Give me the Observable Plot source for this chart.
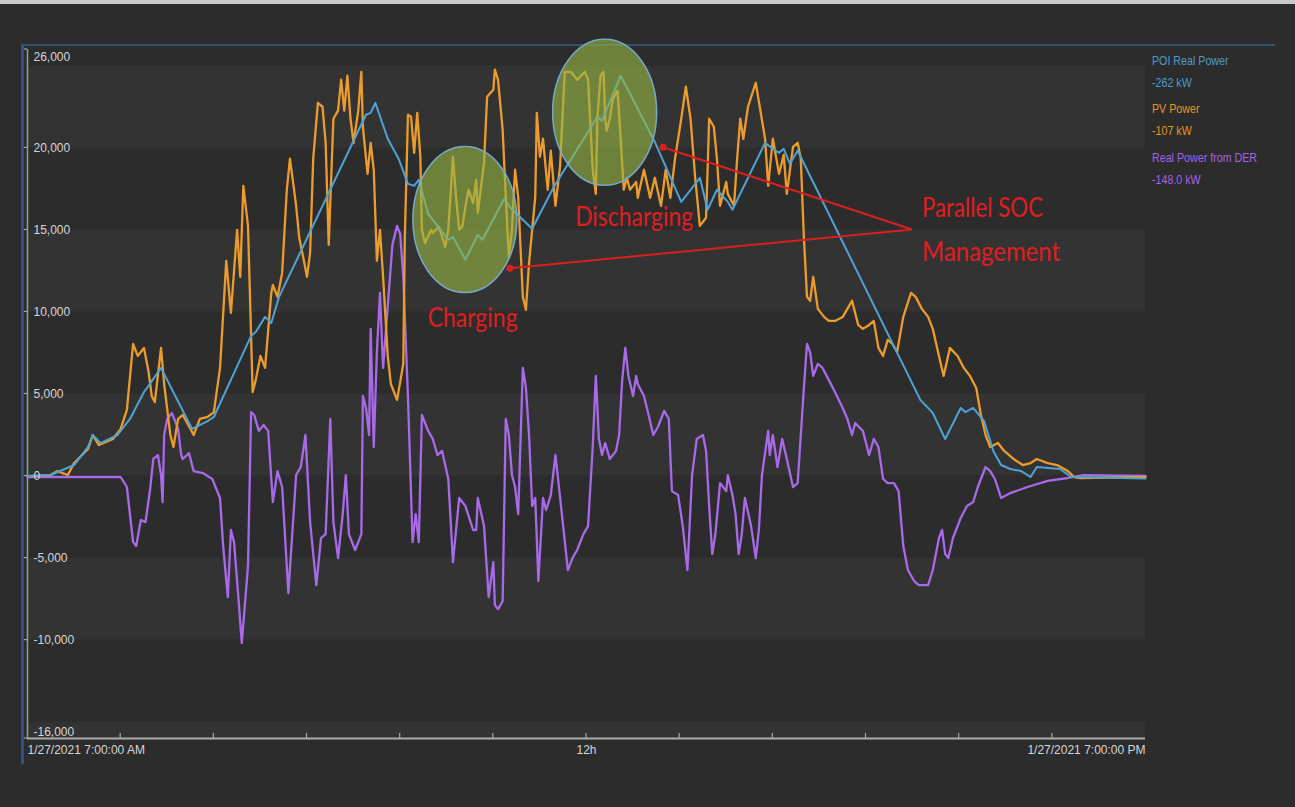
<!DOCTYPE html>
<html>
<head>
<meta charset="utf-8">
<script src="https://cdn.jsdelivr.net/npm/d3@7"></script>
<script src="https://cdn.jsdelivr.net/npm/@observablehq/plot@0.6"></script>
<style>
html,body{margin:0;padding:0;background:#2c2c2c;}
#wrap{position:relative;width:1295px;height:807px;overflow:hidden;background:#2c2c2c;font-family:"Liberation Sans",Arial,sans-serif;}
#topstrip{position:absolute;left:0;top:0;width:1295px;height:4px;background:#c9c9c9;}
#frameTop{position:absolute;left:22px;top:44px;width:1253px;height:2px;background:#34506f;}
#frameLeft{position:absolute;left:21px;top:44px;width:3px;height:720px;background:#2b5587;}
#chart{position:absolute;left:0;top:0;}
.leg{position:absolute;left:1152px;font-size:12px;line-height:14px;white-space:nowrap;transform-origin:0 50%;transform:scale(0.89,1.12);}
</style>
</head>
<body>
<div id="wrap">
  <div id="topstrip"></div>
  <div id="frameTop"></div>
  <div id="frameLeft"></div>
  <div id="chart"></div>
</div>
<script>
// ---------- data (minutes after 1/27/2021 07:00, kW) ----------
const poiMin = [0,15,30,39,42,47,58,66,75,77,86,106,116,120,144,147,153,157,162,218,221,224,232,239,245,249,252,258,271,274,282,290,293,307,311,325,339,367,370,382,404,421,433,438,444,451,454,475,480,484,487,491,496,575,580,583,591,601,604,609,616,622,627,633,640,646,650,665,672,720];
const poiKW = [0,60,670,1770,2500,2010,2500,3480,5120,5370,6590,2870,3350,3600,8540,8780,9700,9330,10920,22020,22140,22750,20560,19340,17810,17690,18060,15980,14400,14580,13180,14700,14400,16900,16350,15070,17630,21900,21660,24400,20370,16710,18180,16230,17450,16710,16230,20310,19950,19700,19950,19030,19830,4640,4150,3840,2260,4150,3900,4150,3360,1530,670,430,300,-60,550,430,-60,-150];

const pvMin = [0,15,19,26,30,39,42,46,55,60, 64,68,71,75,78,80,82,86,88,92, 94,97,100,105,107,111,116,120,124,128, 131,135,137,139,142,145,147,150,153,157, 158,161,164,167,169,171,173,175,178,180, 182,184,187,190,192,194,197,200,202,204, 206,208,210,213,215,216,219,221,223,225, 227,229,232,234,238,242,243,245,247,249, 251,253,254,256,260,261,265,267,269,271, 274,276,278,280,282,284,287,289,290,294, 296,300,301,303,306,308,310,312,314,316, 319,321,323,325,327,328,330,332,335,337, 340,343,346,350,354,359,361,364,366,367, 369,371,372,373,375,377,380,382,384,386, 388,392,393,397,401,404,408,411,414,417, 421,424,427,430,433,437,439,442,444,446, 450,451,455,457,459,461,464,469,472,475, 477,480,484,487,489,493,496,498,500,502, 504,506,509,513,516,520,525,531,535,538, 542,545,548,551,554,557,560,564,569,572, 576,580,583,587,590,594,599,603,607,611, 614,617,620,625,629,635,641,646,650,657, 663,670,674,678,720];
const pvKW = [0,60,300,60,790,1650,2500,1890,2260,2870, 4030,8050,7320,7810,6340,4880,4510,7810,5610,2500, 1770,3480,3720,2870,2500,3480,3600,3900,6590,13120, 9940,15010,12140,17690,15250,5120,5860,7320,6590,11160, 11650,10920,12380,17450,19340,17930,16470,14520,13120,12140, 13600,19340,22750,22510,20310,14090,21780,22270,24160,22270, 24400,21780,20310,22270,24640,21290,18420,20310,18670,13120, 15010,12140,7320,5610,4640,6830,14520,22020,21900,19700, 22140,19460,15010,14210,15010,14820,15190,14580,13970,15010, 19460,17020,15010,15190,16410,17450,16650,18060,16040,19090, 23120,23550,24770,24160,21110,17020,13360,15010,18670,17020, 10920,10130,12990,15010,17020,22140,19460,20560,17450,19830, 16470,18910,24640,24640,24160,24640,24160,18670,17200,21780, 24400,24640,21780,21050,21780,23000,23490,20560,17450,18180, 17450,17930,16960,18670,16960,18180,16470,18670,16960,19340, 21780,23730,21780,18180,15250,15740,21780,21290,19340,16470, 17930,17200,16470,19340,21780,20560,22510,23970,22270,20560, 17690,20560,18420,19580,17200,20070,20310,19340,14520,10920, 10680,12140,10190,9700,9455,9455,9700,10680,9210,8970, 9210,9455,7810,7320,8300,8050,7560,9700,11160,10920, 10190,9700,8970,7320,6100,7810,7320,6590,6100,5370, 3720,2500,1770,2010,1530,1040,670,790,1040,790, 670,300,-60,-120,-60];

const derMin = [0,60,64,68,70,73,76,79,81,84, 86,87,88,90,93,97,99,100,104,107, 113,119,124,126,129,131,133,136,138,142, 144,146,149,152,155,158,161,164,168,173, 176,179,182,186,189,192,195,197,200,203, 205,207,211,215,216,218,220,221,223,225, 227,229,235,238,240,242,245,248,250,252, 254,258,261,264,267,271,274,278,282,287, 289,290,294,297,300,301,303,306,308,310, 312,314,316,319,321,323,325,327,329,332, 334,337,340,342,348,351,354,358,361,364, 366,368,370,372,375,379,381,383,385,387, 390,392,393,397,400,403,406,410,413,415, 419,422,425,428,431,435,437,439,441,443, 446,450,451,454,456,458,460,462,466,469, 471,473,477,478,480,483,486,489,493,496, 498,500,502,504,506,509,512,516,520,525, 528,531,533,538,542,545,548,551,554,558, 561,564,567,571,574,580,583,587,589,591, 593,596,601,605,609,612,615,617,620,623, 627,633,644,657,670,680,720];
const derKW = [-60,-60,-670,-4030,-4270,-2680,-2810,-790,1040,1280, 60,-1590,2500,3480,3840,2870,1280,1040,1400,300, 180,-180,-1340,-4270,-7380,-3290,-4030,-7630,-10190,-5490, 3900,3720,2750,3110,2750,-1590,300,-670,-7140,60, 550,2500,-2810,-6650,-3780,-3540,3480,-2810,-5000,-2320, 60,-3540,-4510,-3540,4880,4150,2500,8970,1770,7560, 11160,6590,14090,15250,14760,12140,4880,-4030,-2320,-4030, 3720,2750,2260,1280,1530,-180,-5250,-1340,-1830,-3290, -3290,-1340,-3050,-7380,-5250,-7870,-8110,-7630,3480,2500, 60,-670,-2320,6590,5370,2500,-1830,-1340,-6400,-1340, -2070,-1160,1280,-430,-5730,-5000,-4510,-3540,-3050,1770, 6100,2260,1280,2010,1040,1530,2500,5860,7810,6100, 4880,6100,5610,4880,3720,2500,2990,3970,3480,-920, -1160,-3050,-5730,60,2260,2500,1530,-1830,-4760,-3540, -430,-920,60,-1160,-2320,-4760,-3540,-1340,-3050,-5000, -3290,60,2750,1280,2500,550,2260,1040,-670,-430, 2500,5370,8050,7560,6100,6830,6590,5860,5120,4150, 3480,2500,3230,2750,1280,2260,1770,-180,-430,-430, -920,-4270,-5730,-6400,-6650,-6650,-5730,-3780,-3290,-4760, -5000,-3780,-2560,-1830,-1590,-670,60,550,300,-180, -1340,-1040,-670,-300,-120,60,0];

const seriesNames = ["POI Real Power", "PV Power", "Real Power from DER"];
const legendReadings = ["-262 kW", "-107 kW", "-148.0 kW"];

const yTickValues = [26000, 20000, 15000, 10000, 5000, 0, -5000, -10000, -16000];
const bandLow  = [20000, 10000, 0, -10000, -16000];
const bandHigh = [25000, 15000, 5000, -5000, -15000];
const hourTickMinutes = [60,120,180,240,300,360,420,480,540,600,660];
const xLabelMinutes = [0, 360, 720];
const xLabelTexts = ["1/27/2021 7:00:00 AM", "12h", "1/27/2021 7:00:00 PM"];

// annotations (anchored in data coordinates)
const ellipseMinutes = [282, 372];
const ellipseKW = [15600, 22140];
const arrowFromMinutes = 570, arrowFromKW = 15000;
const arrowToMinutes = [409.6, 311];
const arrowToKW = [20010, 12630];
const noteTexts = ["Charging", "Discharging", "Parallel SOC", "Management"];
const noteMinutes = [287, 391, 576.4, 576.4];
const noteKW = [9030, 15190, 15740, 13050];

// ---------- styles ----------
const seriesColors = ["#4ea3d6", "#ec9c2c", "#a86ae8"];
const legendColors = ["#4b9ad2", "#e59429", "#a462e6"];

const start = new Date(2021, 0, 27, 7, 0, 0);
const T = m => new Date(start.getTime() + m * 60000);
const end = T(720);
const rows = (mins, vals) => mins.map((m, i) => ({t: T(m), v: vals[i]}));
const poiRows = rows(poiMin, poiKW), pvRows = rows(pvMin, pvKW), derRows = rows(derMin, derKW);
const fmt = v => v.toLocaleString("en-US");
const bands = bandLow.map((lo, i) => ({lo, hi: bandHigh[i]}));
const labelFill = "#d6d6d6";

const chart = Plot.plot({
  width: 1295, height: 807,
  marginLeft: 27, marginRight: 150, marginTop: 49, marginBottom: 69,
  style: {background: "transparent", color: "#a8a8a8", fontFamily: "'Liberation Sans', Arial, sans-serif", fontSize: "12px", overflow: "visible"},
  x: {type: "time", domain: [start, end], axis: null},
  y: {domain: [-16000, 26000], axis: null},
  marks: [
    Plot.rect(bands, {x1: () => start, x2: () => end, y1: "lo", y2: "hi", fill: "#333333"}),
    Plot.ruleX([start], {y1: -16000, y2: 26000, stroke: "#9c9c9c", strokeWidth: 1.5}),
    Plot.ruleY([-16000], {x1: start, x2: end, stroke: "#ababab", strokeWidth: 2}),
    Plot.line(derRows, {x: "t", y: "v", stroke: seriesColors[2], strokeWidth: 2.3, strokeLinejoin: "round"}),
    Plot.line(pvRows, {x: "t", y: "v", stroke: seriesColors[1], strokeWidth: 2.3, strokeLinejoin: "round"}),
    Plot.line(poiRows, {x: "t", y: "v", stroke: seriesColors[0], strokeWidth: 2, strokeLinejoin: "round"}),
    Plot.text(yTickValues.filter(v => v < 26000 && v > -16000), {x: () => start, y: d => d, text: fmt, textAnchor: "start", dx: 6, fill: labelFill, ariaLabel: "ylabels"}),
    Plot.text([26000], {x: () => start, y: d => d, text: fmt, textAnchor: "start", lineAnchor: "top", dx: 6, dy: 3, fill: labelFill, ariaLabel: "ylabels"}),
    Plot.text([-16000], {x: () => start, y: d => d, text: fmt, textAnchor: "start", lineAnchor: "bottom", dx: 6, dy: -3, fill: labelFill, ariaLabel: "ylabels"}),
    Plot.text([0], {x: () => T(xLabelMinutes[0]), y: () => -16000, text: () => xLabelTexts[0], textAnchor: "start", lineAnchor: "top", dy: 7, fill: labelFill, ariaLabel: "xlabels"}),
    Plot.text([1], {x: () => T(xLabelMinutes[1]), y: () => -16000, text: () => xLabelTexts[1], textAnchor: "middle", lineAnchor: "top", dy: 7, fill: labelFill, ariaLabel: "xlabels"}),
    Plot.text([2], {x: () => T(xLabelMinutes[2]), y: () => -16000, text: () => xLabelTexts[2], textAnchor: "end", lineAnchor: "top", dy: 7, fill: labelFill, ariaLabel: "xlabels"})
  ]
});
document.getElementById("chart").appendChild(chart);

const svg = d3.select(chart);
function squash(sel, sx, sy) {
  sel.each(function () {
    const t = this.getAttribute("transform") || "";
    const x = +(this.getAttribute("x") || 0), y = +(this.getAttribute("y") || 0);
    this.removeAttribute("x"); this.removeAttribute("y");
    this.setAttribute("transform", `${t} translate(${x},${y}) scale(${sx},${sy})`);
  });
}
squash(svg.selectAll('g[aria-label="ylabels"] text'), 0.9, 1.15);
squash(svg.selectAll('g[aria-label="xlabels"] text'), 0.84, 1.15);

// scales
const xs = chart.scale("x"), ys = chart.scale("y");
const X = xs.apply ? (d => xs.apply(d)) : d3.scaleTime(xs.domain, xs.range);
const Y = ys.apply ? (d => ys.apply(d)) : d3.scaleLinear(ys.domain, ys.range);

// axis tick marks (pixel-length ticks at scale positions)
const ticksG = svg.append("g").attr("stroke", "#a8a8a8").attr("stroke-width", 1.2);
const yBase = Y(-16000), x0 = X(start);
hourTickMinutes.forEach(m => {
  const x = X(T(m));
  ticksG.append("line").attr("x1", x).attr("x2", x).attr("y1", yBase).attr("y2", yBase - 5);
});
yTickValues.forEach(v => {
  const y = Y(v);
  ticksG.append("line").attr("x1", x0 - 3).attr("x2", x0).attr("y1", y).attr("y2", y);
});

// annotations
const g = svg.append("g").attr("class", "annotations");
ellipseMinutes.forEach((m, i) => {
  g.append("ellipse")
    .attr("cx", X(T(m))).attr("cy", Y(ellipseKW[i]))
    .attr("rx", 52).attr("ry", 73)
    .attr("fill", "rgba(150,182,70,0.62)")
    .attr("stroke", "#79a9c6").attr("stroke-width", 1.5);
});
const red = "#d8201f";
arrowToMinutes.forEach((m, i) => {
  g.append("line")
    .attr("x1", X(T(arrowFromMinutes))).attr("y1", Y(arrowFromKW))
    .attr("x2", X(T(m))).attr("y2", Y(arrowToKW[i]))
    .attr("stroke", red).attr("stroke-width", 2);
  g.append("circle").attr("cx", X(T(m))).attr("cy", Y(arrowToKW[i])).attr("r", 3.5).attr("fill", red);
});
const noteAnchor = ["middle", "middle", "start", "start"];
const noteWidth = [90, 118, 121, 138];
noteTexts.forEach((s, i) => {
  g.append("text")
    .attr("x", X(T(noteMinutes[i]))).attr("y", Y(noteKW[i]))
    .attr("text-anchor", noteAnchor[i])
    .attr("font-family", "Lato, 'Open Sans', sans-serif")
    .attr("font-size", 27)
    .attr("textLength", noteWidth[i]).attr("lengthAdjust", "spacingAndGlyphs")
    .attr("fill", "#e01e22")
    .text(s);
});

// legend
const wrap = document.getElementById("wrap");
const legendCenters = [61, 83, 109, 131, 158, 180];
seriesNames.forEach((name, i) => {
  [name, legendReadings[i]].forEach((txt, j) => {
    const d = document.createElement("div");
    d.className = "leg";
    d.style.top = (legendCenters[i * 2 + j] - 7) + "px";
    d.style.color = legendColors[i];
    d.textContent = txt;
    wrap.appendChild(d);
  });
});
</script>
</body>
</html>
